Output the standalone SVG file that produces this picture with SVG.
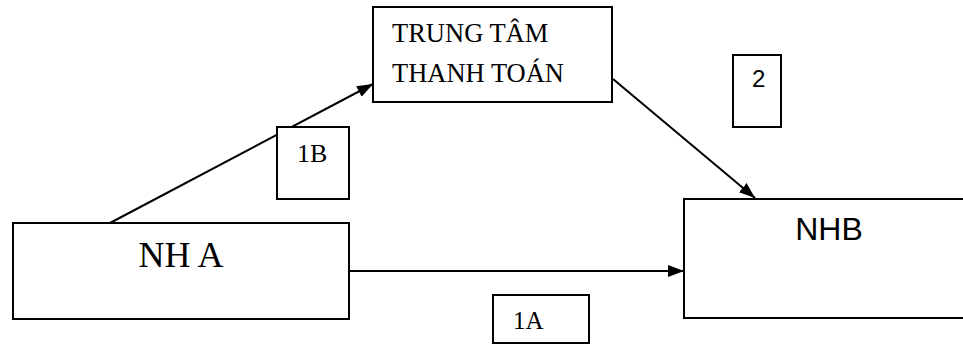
<svg xmlns="http://www.w3.org/2000/svg" width="963" height="345" viewBox="0 0 963 345">
<defs>
<style>
.box{fill:#fff;stroke:#000;stroke-width:2}
.ser{font-family:"Liberation Serif","Times New Roman",serif;fill:#000}
.san{font-family:"Liberation Sans",Arial,sans-serif;fill:#000}
.con{stroke:#000;stroke-width:2;fill:none}
</style>
<marker id="ah" viewBox="0 0 16 12" refX="16" refY="6" markerWidth="16" markerHeight="12" markerUnits="userSpaceOnUse" orient="auto">
<path d="M0,0 L16,6 L0,12 Z" fill="#000"/>
</marker>
</defs>
<rect width="963" height="345" fill="#fff"/>
<g id="connectors">
<line class="con" x1="110" y1="223" x2="373" y2="84" marker-end="url(#ah)"/>
<line class="con" x1="613" y1="79" x2="755" y2="198" marker-end="url(#ah)"/>
<line class="con" x1="349" y1="271" x2="684" y2="271" marker-end="url(#ah)"/>
</g>
<g id="ttt">
<rect class="box" x="373" y="7" width="239" height="95"/>
<text class="ser" x="392" y="42" font-size="26.5">TRUNG TÂM</text>
<text class="ser" x="392" y="82" font-size="26.5">THANH TOÁN</text>
</g>
<g id="nha">
<rect class="box" x="13" y="223" width="336" height="96"/>
<text class="ser" x="181" y="267" font-size="36" text-anchor="middle">NH A</text>
</g>
<g id="nhb">
<rect class="box" x="684" y="199" width="290" height="119"/>
<text class="san" x="829" y="240" font-size="32" text-anchor="middle">NHB</text>
</g>
<g id="label1b">
<rect class="box" x="277" y="127" width="72" height="72"/>
<text class="ser" x="297" y="162" font-size="26">1B</text>
</g>
<g id="label2">
<rect class="box" x="733" y="55" width="48" height="72"/>
<text class="san" x="752" y="87" font-size="24">2</text>
</g>
<g id="label1a">
<rect class="box" x="493" y="295" width="96" height="48"/>
<text class="ser" x="513" y="329" font-size="25">1A</text>
</g>
</svg>
